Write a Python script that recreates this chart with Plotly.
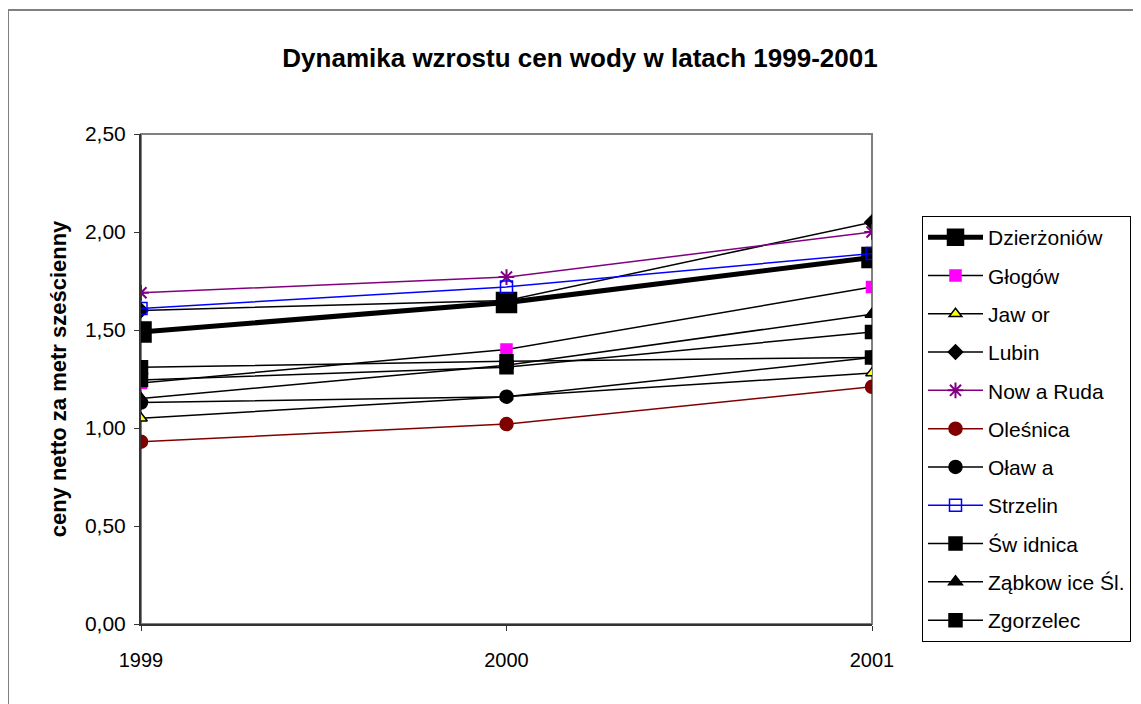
import plotly.graph_objects as go

# Water price per cubic metre (net), 1999-2001
years = ["1999", "2000", "2001"]

dzierzoniow = [1.49, 1.64, 1.87]
glogow = [1.23, 1.40, 1.72]
jawor = [1.05, 1.16, 1.28]
lubin = [1.60, 1.65, 2.05]
nowa_ruda = [1.69, 1.77, 2.00]
olesnica = [0.93, 1.02, 1.21]
olawa = [1.13, 1.16, 1.36]
strzelin = [1.61, 1.72, 1.89]
swidnica = [1.31, 1.34, 1.36]
zabkowice = [1.15, 1.32, 1.58]
zgorzelec = [1.245, 1.31, 1.49]

y_ticks = [0, 0.5, 1.0, 1.5, 2.0, 2.5]

# name, values, line colour, line width, marker symbol, marker size, marker fill, marker outline
series = [
    ("Dzierżoniów", dzierzoniow, "black", 5, "square", 20, "black", "black"),
    ("Głogów", glogow, "black", 1.5, "square", 11, "#ff00ff", "#ff00ff"),
    ("Jaw or", jawor, "black", 1.5, "triangle-up", 11, "#ffff00", "black"),
    ("Lubin", lubin, "black", 1.5, "diamond", 11, "black", "black"),
    ("Now a Ruda", nowa_ruda, "#800080", 1.5, "asterisk-open", 13, "#800080", "#800080"),
    ("Oleśnica", olesnica, "#800000", 1.5, "circle", 13, "#800000", "#800000"),
    ("Oław a", olawa, "black", 1.5, "circle", 13, "black", "black"),
    ("Strzelin", strzelin, "#0000ff", 1.5, "square-open", 12, "#0000ff", "#0000ff"),
    ("Św idnica", swidnica, "black", 1.5, "square", 13, "black", "black"),
    ("Ząbkow ice Śl.", zabkowice, "black", 1.5, "triangle-up", 12, "black", "black"),
    ("Zgorzelec", zgorzelec, "black", 1.5, "square", 13, "black", "black"),
]

fig = go.Figure()
for name, vals, col, lw, sym, size, fill, outline in series:
    fig.add_trace(
        go.Scatter(
            x=years,
            y=vals,
            mode="lines+markers",
            name=name,
            legendgroup=name,
            line={"color": col, "width": lw},
            marker={
                "symbol": sym,
                "size": size,
                "color": fill,
                "line": {"color": outline, "width": 1.5 if sym != "asterisk-open" else 2},
            },
        )
    )

FONT = "Liberation Sans, Arial, sans-serif"

# the page has an 8px body margin, so figure coords = screen coords - 8
L, T, R, B = 133, 126, 864, 616
PW, PH = R - L, B - T

fig.update_layout(
    width=1141,
    height=704,
    paper_bgcolor="white",
    plot_bgcolor="white",
    separators=", ",
    font={"family": FONT, "size": 21, "color": "black"},
    title={
        "text": "<b>Dynamika wzrostu cen wody w latach 1999-2001</b>",
        "font": {"family": FONT, "size": 26, "color": "black"},
        "x": 572 / 1141,
        "xanchor": "center",
        "y": 1 - 50 / 704,
        "yanchor": "middle",
    },
    margin={"l": L, "r": 1141 - R, "t": T, "b": 704 - B, "pad": 0},
    showlegend=True,
    legend={
        "x": (914 - L) / PW,
        "y": (B - 208) / PH,
        "xanchor": "left",
        "yanchor": "top",
        "bordercolor": "black",
        "borderwidth": 1,
        "bgcolor": "white",
        "font": {"family": FONT, "size": 21, "color": "black"},
        "tracegroupgap": 8,
        "itemwidth": 55,
    },
    shapes=[
        # outer chart frame
        {
            "type": "rect",
            "xref": "paper",
            "yref": "paper",
            "x0": (0 - L) / PW,
            "x1": (1160 - L) / PW,
            "y0": (B - 720) / PH,
            "y1": (B - 2) / PH,
            "line": {"color": "#808080", "width": 2},
            "layer": "below",
        },
        # plot area border
        {
            "type": "rect",
            "xref": "paper",
            "yref": "paper",
            "x0": 0,
            "x1": 1,
            "y0": 0,
            "y1": 1,
            "line": {"color": "#808080", "width": 2},
            "layer": "below",
        },
    ],
)

fig.update_xaxes(
    type="category",
    range=[0, 2],
    showgrid=False,
    showline=True,
    linecolor="#333333",
    linewidth=2,
    ticks="outside",
    ticklen=5,
    tickcolor="#333333",
    tickfont={"size": 20},
    ticklabelstandoff=12,
)

fig.update_yaxes(
    range=[0, 2.5],
    tickvals=y_ticks,
    tickformat=".2f",
    showgrid=False,
    zeroline=False,
    showline=True,
    linecolor="#333333",
    linewidth=2,
    ticks="outside",
    ticklen=5,
    tickcolor="#333333",
    tickfont={"size": 21},
    ticklabelstandoff=4,
    title={"text": "<b>ceny netto za metr sześcienny</b>", "font": {"size": 22}, "standoff": 12},
)

fig.write_html("out.html")
